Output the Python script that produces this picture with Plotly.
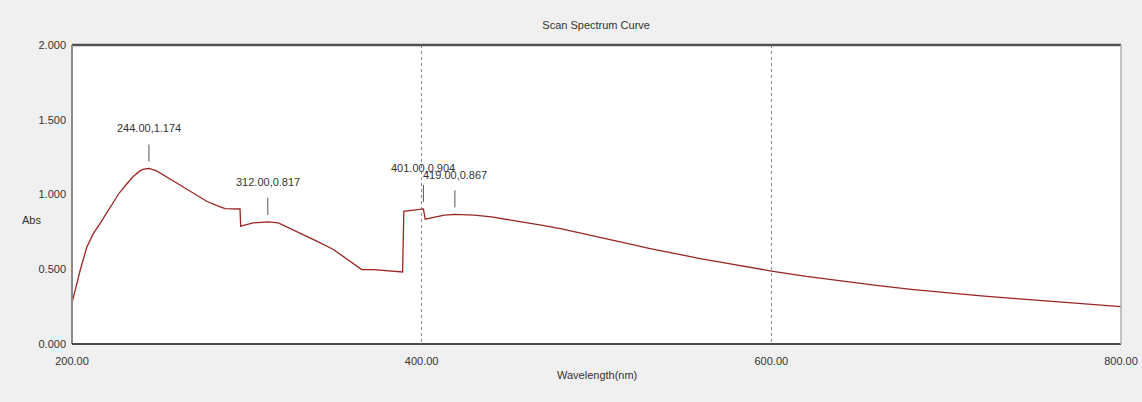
import plotly.graph_objects as go

# Scan spectrum: wavelength (nm) vs absorbance
wavelength = [
    200, 204.6, 208.4, 212, 216, 220, 223.6, 227, 231.3, 235, 238.9, 241, 244,
    248.4, 258, 267.5, 277, 283, 287.5, 296.1, 296.5, 303.7, 312, 318, 330.4,
    340, 349.5, 359, 365.7, 372.4, 380, 389.1, 389.8, 395, 399.1, 401, 402,
    408, 413, 419,
    430, 440, 450, 460, 470, 480, 490, 500, 510, 520, 530, 540, 550, 560,
    570, 580, 590, 600, 620, 640, 660, 680, 700, 720, 740, 760, 780, 800,
]
absorbance = [
    0.275, 0.49, 0.645, 0.735, 0.805, 0.88, 0.95, 1.01, 1.07, 1.12, 1.158, 1.169, 1.174,
    1.158, 1.09, 1.022, 0.955, 0.925, 0.905, 0.903, 0.788, 0.81, 0.817, 0.81, 0.743,
    0.688, 0.632, 0.554, 0.498, 0.497, 0.492, 0.482, 0.888, 0.895, 0.899, 0.904, 0.835,
    0.852, 0.862, 0.867,
    0.862, 0.850, 0.832, 0.812, 0.792, 0.770, 0.745, 0.718, 0.692, 0.666, 0.640,
    0.615, 0.592, 0.570, 0.549, 0.528, 0.508, 0.488, 0.452, 0.420, 0.392, 0.366,
    0.343, 0.322, 0.303, 0.286, 0.268, 0.250,
]

# Labelled peaks and the vertical offset (px) of each label above its peak
peak_wl = [244.00, 312.00, 401.00, 419.00]
peak_abs = [1.174, 0.817, 0.904, 0.867]
label_lift = [40, 40, 41, 39]

x_ticks = [200, 400, 600, 800]
y_ticks = [0.0, 0.5, 1.0, 1.5, 2.0]

FONT = "Liberation Sans, Arial, sans-serif"
TXT = "#333333"
FS = 11

fig = go.Figure()
fig.add_trace(go.Scatter(
    x=wavelength, y=absorbance, mode="lines",
    line=dict(color="#9a2626", width=1.3),
    hoverinfo="x+y", showlegend=False,
))

shapes = []
annotations = []
for wl, ab, lift in zip(peak_wl, peak_abs, label_lift):
    # short vertical marker above each peak
    shapes.append(dict(
        type="line", xref="x", yref="y", ysizemode="pixel", yanchor=ab,
        x0=wl, x1=wl, y0=7, y1=24,
        line=dict(color="#555555", width=1),
    ))
    annotations.append(dict(
        x=wl, y=ab, xref="x", yref="y", showarrow=False,
        text=f"{wl:.2f},{ab:.3f}", yanchor="middle", yshift=lift,
        font=dict(family=FONT, size=FS, color=TXT),
    ))

# plot frame: dark top/left, black bottom, light right edge
shapes += [
    dict(type="line", xref="paper", yref="paper", x0=0, x1=1, y0=1, y1=1,
         line=dict(color="#505050", width=2.5)),
    dict(type="line", xref="paper", yref="paper", x0=0, x1=0, y0=0, y1=1,
         line=dict(color="#8a8a8a", width=2)),
    dict(type="line", xref="paper", yref="paper", x0=0, x1=1, y0=0, y1=0,
         line=dict(color="#111111", width=1.5)),
    dict(type="line", xref="paper", yref="paper", x0=1, x1=1, y0=0, y1=1,
         line=dict(color="#b0b0b0", width=1.5)),
]

annotations += [
    dict(text="Abs", xref="paper", yref="paper", x=0, y=0.415, xshift=-52,
         showarrow=False, font=dict(family=FONT, size=FS, color=TXT)),
    dict(text="Wavelength(nm)", xref="paper", yref="paper", x=0.5, y=0,
         yshift=-39, showarrow=False,
         font=dict(family=FONT, size=FS, color=TXT)),
]

fig.update_layout(
    width=1142, height=402, autosize=False,
    margin=dict(l=72, r=21, t=45, b=58),
    paper_bgcolor="#f0f0f0", plot_bgcolor="#ffffff",
    title=dict(text="Scan Spectrum Curve", x=0.522, xanchor="center",
               y=1 - 25 / 402, yanchor="middle",
               font=dict(family=FONT, size=FS, color=TXT)),
    shapes=shapes, annotations=annotations,
    xaxis=dict(
        range=[200, 800], tickvals=x_ticks,
        ticktext=[f"{v:.2f}" for v in x_ticks],
        showgrid=True, gridcolor="#8a8a8a", griddash="3px,3px", gridwidth=1,
        zeroline=False, showline=False, ticks="", automargin=False,
        ticklabelstandoff=9,
        tickfont=dict(family=FONT, size=FS, color=TXT),
    ),
    yaxis=dict(
        range=[0, 2], tickvals=y_ticks,
        ticktext=[f"{v:.3f}" for v in y_ticks],
        showgrid=False, zeroline=False, showline=False, ticks="",
        automargin=False, ticklabelstandoff=5,
        tickfont=dict(family=FONT, size=FS, color=TXT),
    ),
)

fig.write_html("out.html")
